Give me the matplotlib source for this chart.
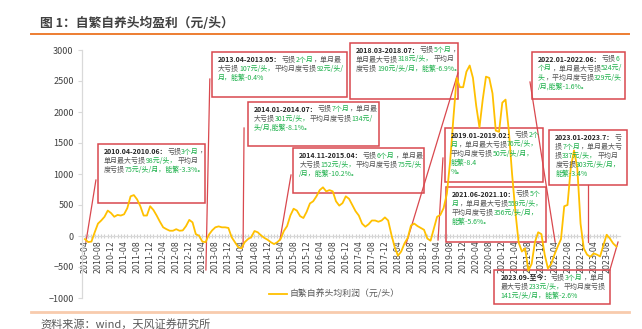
import matplotlib
matplotlib.use("Agg")
import matplotlib.pyplot as plt
import numpy as np
import pandas as pd
from matplotlib.patches import Rectangle
from matplotlib.lines import Line2D

plt.rcParams['font.family'] = ['Noto Sans CJK SC', 'DejaVu Sans']

# Monthly average profit per head (yuan/head), self-breeding hog farming, from 2010-04
profit = [
    -50, -98, -90, 60, 200, 250, 310, 410, 370, 310, 340, 330,          # 2010-04 .. 2011-03
    350, 450, 640, 660, 590, 480, 330, 330, 480, 420, 330, 230,         # 2011-04 .. 2012-03
    140, 110, 85, 85, 110, 85, 90, 160, 260, 220, 30, 5,                # 2012-04 .. 2013-03
    -90, -100, 20, 90, 140, 155, 140, 140, 130, -20, -100, -180,        # 2013-04 .. 2014-03
    -200, -100, -50, -20, 80, 60, 10, -30, -60, -100, -130, -100,       # 2014-04 .. 2015-03
    -50, 80, 160, 330, 440, 410, 320, 290, 390, 525, 560, 640,          # 2015-04 .. 2016-03
    740, 785, 720, 740, 720, 560, 490, 530, 640, 600, 500, 400,         # 2016-04 .. 2017-03
    330, 200, 150, 190, 250, 250, 230, 250, 300, 250, 20, -180,         # 2017-04 .. 2018-03
    -318, -250, -120, -30, 170, 200, 160, 130, 100, -40, -76, 120,      # 2018-04 .. 2019-03
    310, 340, 450, 680, 1200, 1900, 2550, 2400, 2400, 2650, 2750, 2550, # 2019-04 .. 2020-03
    2100, 1750, 2200, 2570, 2550, 2300, 1700, 1680, 2150, 2200, 1700, 1000,  # 2020-04 .. 2021-03
    400, -100, -250, -200, -559, -450, -100, 60, 30, -300, -524, -450,  # 2021-04 .. 2022-03
    -300, -170, -50, 480, 500, 1100, 1380, 1100, 200, -200, -300, -337, # 2022-04 .. 2023-03
    -280, -300, -330, -150, 20, -40, -120, -170,                        # 2023-04 .. 2023-11
]
months = pd.date_range('2010-04-01', periods=len(profit), freq='MS')
tick_labels = [d.strftime('%Y-%m') for d in months]

series_name = '自繁自养头均利润（元/头）'
title_text = '图 1：自繁自养头均盈利（元/头）'
source_text = '资料来源：wind，天风证券研究所'

# Loss-period notes: each line is a list of (text, style) runs
# style: 'b' bold date, 'n' plain, 'g' highlighted figures
notes = [
    [[("2010.04-2010.06：", "b"), ("亏损", "n"), ("3个月", "g"), ("，", "n")],
     [("单月最大亏损", "n"), ("98元/头，", "g"), ("平均月", "n")],
     [("度亏损", "n"), ("75元/头/月，能繁-3.3%。", "g")]],
    [[("2013.04-2013.05：", "b"), ("亏损", "n"), ("2个月", "g"), ("，单月最", "n")],
     [("大亏损", "n"), ("107元/头，", "g"), ("平均月度亏损", "n"), ("92元/头/", "g")],
     [("月，能繁-0.4%", "g")]],
    [[("2014.01-2014.07：", "b"), ("亏损", "n"), ("7个月", "g"), ("，单月最", "n")],
     [("大亏损", "n"), ("301元/头，", "g"), ("平均月度亏损", "n"), ("134元/", "g")],
     [("头/月,能繁-8.1%。", "g")]],
    [[("2014.11-2015.04：", "b"), ("亏损", "n"), ("6个月", "g"), ("，单月最", "n")],
     [("大亏损", "n"), ("152元/头，", "g"), ("平均月度亏损", "n"), ("75元/头", "g")],
     [("/月，能繁-10.2%。", "g")]],
    [[("2018.03-2018.07：", "b"), ("亏损", "n"), ("5个月", "g"), ("，", "n")],
     [("单月最大亏损", "n"), ("318元/头，", "g"), ("平均月", "n")],
     [("度亏损", "n"), ("190元/头/月，能繁-6.9%。", "g")]],
    [[("2019.01-2019.02：", "b"), ("亏损", "n"), ("2个", "g")],
     [("月", "g"), ("，单月最大亏损", "n"), ("76元/头，", "g")],
     [("平均月度亏损", "n"), ("50元/头/月，", "g")],
     [("能繁-8.4", "g")],
     [("%。", "g")]],
    [[("2021.06-2021.10：", "b"), ("亏损", "n"), ("5个", "g")],
     [("月", "g"), ("，单月最大亏损", "n"), ("559元/头，", "g")],
     [("平均月度亏损", "n"), ("356元/头/月，", "g")],
     [("能繁-5.6%。", "g")]],
    [[("2022.01-2022.06：", "b"), ("亏损", "n"), ("6", "g")],
     [("个月", "g"), ("，单月最大亏损", "n"), ("524元/", "g")],
     [("头", "g"), ("，平均月度亏损", "n"), ("329元/头", "g")],
     [("/月,能繁-1.6%。", "g")]],
    [[("2023.01-2023.7：", "b"), ("亏", "n")],
     [("损", "n"), ("7个月", "g"), ("，单月最大亏", "n")],
     [("损", "n"), ("337元/头，", "g"), ("平均月", "n")],
     [("度亏损", "n"), ("303元/头/月，", "g")],
     [("能繁-3.4%", "g")]],
    [[("2023.09-至今：", "b"), ("亏损", "n"), ("3个月", "g"), ("，单月", "n")],
     [("最大亏损", "n"), ("233元/头，", "g"), ("平均月度亏损", "n")],
     [("141元/头/月，能繁-2.6%", "g")]],
]

# Layout of the note boxes in data units: (left month, right month, top value, bottom value)
box_layout = [
    (3.9, 36.7, 1479, 527),
    (39.0, 80.3, 2963, 2247),
    (49.9, 90.3, 2166, 1452),
    (63.9, 104.1, 1415, 689),
    (81.3, 114.5, 3118, 2205),
    (110.4, 140.6, 1747, 876),
    (110.7, 141.3, 795, -92),
    (137.0, 165.6, 2973, 2205),
    (142.4, 166.3, 1710, 823),
    (125.6, 161.0, -548, -1102),
]
# Leader lines in data units: ((x0, x1), (y0, y1))
leaders = [
    ((3.37, 0.31), (903, -97)),
    ((38.3, 37.1), (2532, -548)),
    ((48.8, 48.5), (1742, -177)),
    ((63.2, 59.8), (984, -65)),
    ((114.4, 98.5), (2629, -129)),
    ((109.8, 108.3), (1258, -65)),
    ((136.5, 144.2), (2484, -97)),
    ((154.3, 154.3), (823, -97)),
    ((161.0, 163.5), (-548, -97)),
]

LINE_C = '#FFC000'
RED = '#D9484E'
GREEN = '#1DB04B'
TXT = '#555555'
BOLD = '#262626'
AXIS_C = '#D9D9D9'
LABEL_C = '#404040'

fig = plt.figure(figsize=(6.42, 3.29), dpi=100)
fig.patch.set_facecolor('white')
ax = fig.add_axes([82 / 642, 1 - 298 / 329, 538 / 642, 248 / 329])

# Spines first: moving a spine rebuilds the ticks
for side in ('top', 'right'):
    ax.spines[side].set_visible(False)
ax.spines['bottom'].set_position(('data', 0))
ax.spines['bottom'].set_color(AXIS_C)
ax.spines['left'].set_color(AXIS_C)
ax.spines['left'].set_linewidth(0.9)
ax.spines['bottom'].set_linewidth(0.9)
ax.set_facecolor('none')

x = np.arange(len(profit))
ax.plot(x, profit, color=LINE_C, lw=1.3, zorder=6, solid_joinstyle='round')

ax.set_xlim(-0.9, 164.1)
ax.set_ylim(-1000, 3000)
ax.set_yticks(np.arange(-1000, 3001, 500))
ax.tick_params(axis='y', labelsize=6.5, labelcolor=LABEL_C, color=AXIS_C,
               length=3, width=0.8, pad=3)

major = x[::4]
ax.set_xticks(major)
ax.set_xticks(x, minor=True)
ax.tick_params(axis='x', which='both', direction='inout', length=3.5,
               width=0.8, color='#CFCFCF', pad=1.5)
ax.set_xticklabels([tick_labels[i] for i in major], rotation=90,
                   fontsize=5.7, color=LABEL_C, family='DejaVu Sans')

# Note boxes with multi-colour text
style_map = {'b': dict(color=BOLD, fontweight='bold'),
             'n': dict(color=TXT, fontweight='normal'),
             'g': dict(color=GREEN, fontweight='normal')}
for (x0, x1, yt, yb), lines in zip(box_layout, notes):
    ax.add_patch(Rectangle((x0, yb), x1 - x0, yt - yb, fill=False, ec=RED,
                           lw=1.1, clip_on=False, zorder=4))
    for i, segs in enumerate(lines):
        prev = None
        for txt, sty in segs:
            kw = dict(fontsize=5.0, annotation_clip=False, zorder=7,
                      ha='left', va='center', **style_map[sty])
            if prev is None:
                prev = ax.annotate(txt, xy=(x0, yt), xycoords='data',
                                   xytext=(6, -7.6 - 9.2 * i),
                                   textcoords='offset pixels', **kw)
            else:
                prev = ax.annotate(txt, xy=(1, 0.5), xycoords=prev, **kw)

for (lx, ly) in leaders:
    ax.plot(lx, ly, color=RED, lw=0.9, clip_on=False, zorder=4)

# Legend
handle = Line2D([], [], color=LINE_C, lw=1.3)
leg = fig.legend([handle], [series_name], loc='center',
                 bbox_to_anchor=(334 / 642, 1 - 294 / 329), frameon=False,
                 fontsize=6.4, handlelength=2.0, handletextpad=0.3,
                 borderaxespad=0, borderpad=0)
for t in leg.get_texts():
    t.set_color('#595959')

# Header and footer
fig.text(40 / 642, 1 - 23.3 / 329, title_text, fontsize=9.2, fontweight='bold',
         color='#404040', ha='left', va='center')
fig.add_artist(Line2D([31 / 642, 629 / 642], [1 - 34 / 329, 1 - 34 / 329],
                      color='#ED7D31', lw=1.4))
fig.add_artist(Line2D([31 / 642, 629 / 642], [1 - 312 / 329, 1 - 312 / 329],
                      color='#F8CBAD', lw=2.0))
fig.text(40 / 642, 1 - 324.5 / 329, source_text, fontsize=8.0,
         color='#595959', ha='left', va='center')

fig.savefig('out.png', dpi=100, facecolor='white')
